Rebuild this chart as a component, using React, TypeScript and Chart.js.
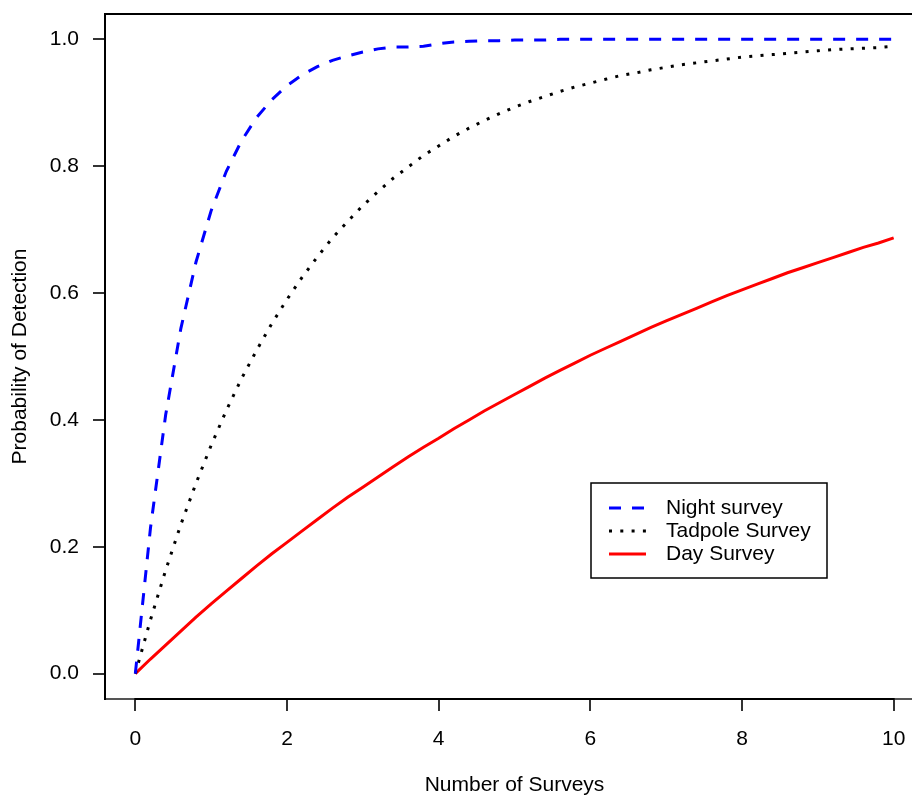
import React, { useEffect, useRef } from "react";
import { Chart, registerables } from "chart.js";

Chart.register(...registerables);

const surveys = [
  0, 0.2, 0.4, 0.6, 0.8, 1.0, 1.2, 1.4, 1.6, 1.8, 2.0, 2.2, 2.4, 2.6, 2.8, 3.0, 3.2, 3.4, 3.6, 3.8,
  4.0, 4.2, 4.4, 4.6, 4.8, 5.0, 5.2, 5.4, 5.6, 5.8, 6.0, 6.2, 6.4, 6.6, 6.8, 7.0, 7.2, 7.4, 7.6, 7.8,
  8.0, 8.2, 8.4, 8.6, 8.8, 9.0, 9.2, 9.4, 9.6, 9.8, 10.0,
];

const nightSurvey = [
  0, 0.23, 0.408, 0.544, 0.649, 0.73, 0.792, 0.84, 0.877, 0.905, 0.927, 0.944, 0.957, 0.967, 0.974,
  0.98, 0.985, 0.988, 0.988, 0.989, 0.993, 0.996, 0.997, 0.998, 0.998, 0.999, 0.999, 0.999, 1.0, 1.0,
  1.0, 1.0, 1.0, 1.0, 1.0, 1.0, 1.0, 1.0, 1.0, 1.0, 1.0, 1.0, 1.0, 1.0, 1.0, 1.0, 1.0, 1.0, 1.0, 1.0, 1.0,
];

const tadpoleSurvey = [
  0, 0.085, 0.163, 0.235, 0.3, 0.36, 0.415, 0.465, 0.51, 0.552, 0.59, 0.625, 0.657, 0.687, 0.713,
  0.738, 0.76, 0.781, 0.799, 0.817, 0.832, 0.847, 0.86, 0.872, 0.883, 0.893, 0.902, 0.91, 0.918, 0.925,
  0.931, 0.937, 0.943, 0.947, 0.952, 0.956, 0.96, 0.963, 0.966, 0.969, 0.972, 0.974, 0.976, 0.978,
  0.98, 0.982, 0.984, 0.985, 0.986, 0.987, 0.989,
];

const daySurvey = [
  0, 0.023, 0.045, 0.067, 0.089, 0.11, 0.13, 0.15, 0.17, 0.189, 0.207, 0.225, 0.243, 0.261, 0.278,
  0.294, 0.31, 0.326, 0.342, 0.357, 0.371, 0.386, 0.4, 0.414, 0.427, 0.44, 0.453, 0.466, 0.478, 0.49,
  0.502, 0.513, 0.524, 0.535, 0.546, 0.556, 0.566, 0.576, 0.586, 0.596, 0.605, 0.614, 0.623, 0.632,
  0.64, 0.648, 0.656, 0.664, 0.672, 0.679, 0.687,
];

const xTickValues = [0, 2, 4, 6, 8, 10];
const yTickValues = [0, 0.2, 0.4, 0.6, 0.8, 1.0];
const seriesLabels = ["Night survey", "Tadpole Survey", "Day Survey"];
const xTitle = "Number of Surveys";
const yTitle = "Probability of Detection";

const FONT = '"Liberation Sans", Arial, Helvetica, sans-serif';
const FONT_SIZE = 21;

const framePlugin = {
  id: "rframe",
  afterDraw(chart: any) {
    const { ctx, chartArea: a, scales } = chart;
    ctx.save();
    // cover anything at the right viewport edge inside the plot
    ctx.fillStyle = "#fff";
    ctx.fillRect(906, a.top + 2, 10, a.bottom - a.top - 4);

    ctx.strokeStyle = "#000";
    ctx.lineWidth = 2;
    ctx.beginPath();
    ctx.moveTo(a.left - 1, a.top);
    ctx.lineTo(a.right, a.top);
    ctx.stroke();

    // darker axis segment between first and last tick (R axis over box)
    const x0 = scales.x.getPixelForValue(xTickValues[0]);
    const x1 = scales.x.getPixelForValue(xTickValues[xTickValues.length - 1]);
    ctx.strokeStyle = "#000";
    ctx.beginPath();
    ctx.moveTo(x0 - 1, a.bottom);
    ctx.lineTo(x1 + 1, a.bottom);
    ctx.stroke();

    ctx.fillStyle = "#000";
    ctx.font = `${FONT_SIZE}px ${FONT}`;
    ctx.textAlign = "center";
    ctx.textBaseline = "middle";
    ctx.fillText(xTitle, (a.left + a.right) / 2, 785);
    ctx.save();
    ctx.translate(20, (a.top + a.bottom) / 2);
    ctx.rotate(-Math.PI / 2);
    ctx.fillText(yTitle, 0, 0);
    ctx.restore();

    // legend
    const bx = 591, by = 483, bw = 236, bh = 95;
    ctx.fillStyle = "#fff";
    ctx.fillRect(bx, by, bw, bh);
    ctx.lineWidth = 1.5;
    ctx.strokeStyle = "#000";
    ctx.strokeRect(bx, by, bw, bh);
    const rows = [508, 531, 554];
    chart.data.datasets.forEach((ds: any, i: number) => {
      const y = rows[i];
      ctx.save();
      ctx.strokeStyle = ds.borderColor;
      ctx.lineWidth = ds.borderWidth;
      ctx.setLineDash(ds.borderDash || []);
      ctx.lineCap = "butt";
      ctx.beginPath();
      ctx.moveTo(609, y);
      ctx.lineTo(646, y);
      ctx.stroke();
      ctx.restore();
      ctx.fillStyle = "#000";
      ctx.textAlign = "left";
      ctx.textBaseline = "middle";
      ctx.font = `${FONT_SIZE}px ${FONT}`;
      ctx.fillText(ds.label, 666, y);
    });
    ctx.restore();
  },
};

export default function App() {
  const ref = useRef<HTMLCanvasElement | null>(null);

  useEffect(() => {
    if (!ref.current) return;
    const mk = (vals: number[]) => surveys.map((x, i) => ({ x, y: vals[i] }));
    const chart = new Chart(ref.current, {
      type: "line",
      data: {
        datasets: [
          {
            label: seriesLabels[0],
            data: mk(nightSurvey),
            borderColor: "#0000ff",
            borderWidth: 3,
            borderDash: [12, 11],
            pointRadius: 0,
            tension: 0,
          },
          {
            label: seriesLabels[1],
            data: mk(tadpoleSurvey),
            borderColor: "#000000",
            borderWidth: 3,
            borderDash: [3, 8.3],
            pointRadius: 0,
            tension: 0,
          },
          {
            label: seriesLabels[2],
            data: mk(daySurvey),
            borderColor: "#ff0000",
            borderWidth: 3,
            pointRadius: 0,
            tension: 0,
          },
        ],
      },
      options: {
        animation: false,
        responsive: false,
        devicePixelRatio: 1,
        layout: { padding: { left: 0, top: 14, right: 6, bottom: 0 } },
        plugins: { legend: { display: false }, tooltip: { enabled: false } },
        scales: {
          x: {
            type: "linear",
            min: -0.4,
            max: 10.4,
            afterBuildTicks: (s: any) => {
              s.ticks = xTickValues.map((v) => ({ value: v }));
            },
            afterFit: (s: any) => {
              s.height = 97;
              s.paddingLeft = 0;
              s.paddingRight = 0;
              s.paddingTop = 0;
              s.paddingBottom = 0;
            },
            grid: {
              display: true,
              drawOnChartArea: false,
              drawTicks: true,
              tickLength: 12,
              color: "#333",
              lineWidth: 2,
            },
            border: { display: true, color: "#555", width: 2 },
            ticks: {
              autoSkip: false,
              maxRotation: 0,
              padding: 16,
              color: "#000",
              font: { family: FONT, size: FONT_SIZE },
              callback: (v: any) => String(v),
            },
          },
          y: {
            type: "linear",
            min: -0.04,
            max: 1.04,
            afterBuildTicks: (s: any) => {
              s.ticks = yTickValues.map((v) => ({ value: v }));
            },
            afterFit: (s: any) => {
              s.width = 105;
              s.paddingLeft = 0;
              s.paddingRight = 0;
              s.paddingTop = 0;
              s.paddingBottom = 0;
            },
            grid: {
              display: true,
              drawOnChartArea: false,
              drawTicks: true,
              tickLength: 12,
              color: "#333",
              lineWidth: 2,
            },
            border: { display: true, color: "#000", width: 2 },
            ticks: {
              autoSkip: false,
              padding: 14,
              color: "#000",
              font: { family: FONT, size: FONT_SIZE },
              callback: (v: any) => Number(v).toFixed(1),
            },
          },
        },
      },
      plugins: [framePlugin],
    });
    return () => chart.destroy();
  }, []);

  return (
    <div
      style={{
        position: "fixed",
        left: 0,
        top: 0,
        width: 912,
        height: 796,
        overflow: "hidden",
        background: "#fff",
      }}
    >
      <canvas ref={ref} width={930} height={796} style={{ display: "block" }} />
    </div>
  );
}
